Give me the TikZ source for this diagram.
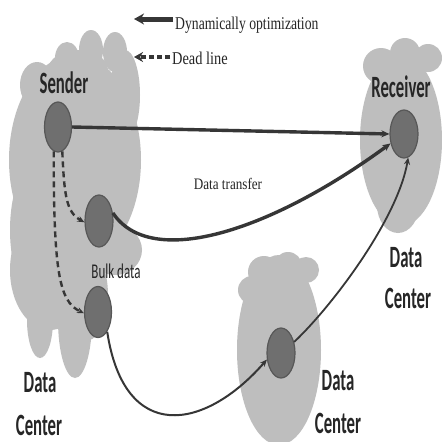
\documentclass[tikz,border=0pt]{standalone}
\usepackage{fontspec}
\setmainfont{Liberation Serif}
\newfontfamily\labelfont{Carlito}
\usetikzlibrary{shapes.geometric,arrows.meta}

\definecolor{cloudgrey}{HTML}{BEBEBE}
\definecolor{hostgrey}{HTML}{6F6F6F}
\definecolor{hostedge}{HTML}{575757}
\definecolor{linkgrey}{HTML}{363636}
\definecolor{labeltext}{HTML}{262626}

\begin{document}
\begin{tikzpicture}[x=1pt,y=-1pt,
  cloudpart/.style={fill=cloudgrey, draw=none},
  host/.style={ellipse, fill=hostgrey, draw=hostedge, line width=1.2pt, inner sep=0pt},
  dclabel/.style={anchor=base, text=labeltext, inner sep=0pt,
    font=\labelfont\bfseries\fontsize{31}{31}\selectfont},
  smalllabel/.style={anchor=base, text=labeltext, inner sep=0pt,
    font=\labelfont\fontsize{21}{21}\selectfont},
  serifnote/.style={text=labeltext, inner sep=0pt,
    font=\fontsize{18}{18}\selectfont},
  link/.style={draw=linkgrey, line width=3.4pt,
    -{Stealth[length=8pt,width=7pt]}},
  thinlink/.style={draw=linkgrey, line width=1.8pt,
    -{Stealth[length=7pt,width=6pt]}},
  deadline/.style={draw=linkgrey, line width=2.4pt, dash pattern=on 6pt off 4pt,
    -{Stealth[length=7pt,width=6pt]}},
  legendsolid/.style={draw=linkgrey, line width=5pt,
    -{Stealth[length=10pt,width=11pt]}},
  legenddash/.style={draw=linkgrey, line width=3.6pt, dash pattern=on 5pt off 3pt,
    -{Stealth[length=9pt,width=10pt]}},
]
\useasboundingbox[fill=white] (0,0) rectangle (442,442);

% sender data center
\fill[cloudpart] (75,160) ellipse [x radius=66, y radius=105];
\fill[cloudpart] (67,58) ellipse [x radius=12, y radius=16];
\fill[cloudpart] (91,50) ellipse [x radius=12, y radius=20];
\fill[cloudpart] (115,52) ellipse [x radius=12, y radius=20];
\fill[cloudpart] (125,95) ellipse [x radius=15, y radius=45];
\fill[cloudpart] (78,70) ellipse [x radius=30, y radius=20];
\fill[cloudpart] (37,85) ellipse [x radius=17, y radius=23];
\fill[cloudpart] (40,230) ellipse [x radius=30, y radius=72];
\fill[cloudpart] (50,270) ellipse [x radius=40, y radius=60];
\fill[cloudpart] (40,320) ellipse [x radius=13, y radius=38];
\fill[cloudpart] (75,320) ellipse [x radius=17, y radius=58];
\fill[cloudpart] (88,295) ellipse [x radius=20, y radius=45];
\fill[cloudpart] (115,250) ellipse [x radius=27, y radius=25];

% receiver data center
\fill[cloudpart] (401,140) ellipse [x radius=41, y radius=86];
\fill[cloudpart] (381,66) circle [radius=18];
\fill[cloudpart] (405,53) circle [radius=15];
\fill[cloudpart] (428,58) circle [radius=14];
\fill[cloudpart] (398,205) ellipse [x radius=21, y radius=28];

% relay data center
\fill[cloudpart] (279,350) ellipse [x radius=42, y radius=95];
\fill[cloudpart] (264,272) circle [radius=16];
\fill[cloudpart] (288,266) circle [radius=14];
\fill[cloudpart] (306,270) circle [radius=13];
\fill[cloudpart] (252,290) circle [radius=14];

% hosts
\node[host, minimum width=27pt, minimum height=50pt] (sender) at (58,127) {};
\node[host, minimum width=28pt, minimum height=52pt] (bulkA) at (99,221) {};
\node[host, minimum width=27pt, minimum height=51pt] (bulkB) at (98,312) {};
\node[host, minimum width=28pt, minimum height=48pt] (receiver) at (404,134) {};
\node[host, minimum width=28pt, minimum height=50pt] (relay) at (281,353) {};

% labels
\node[dclabel] (lsender) at (64,93) {\scalebox{0.54}[1]{Sender}};
\node[dclabel] (lreceiver) at (401,97) {\scalebox{0.54}[1]{Receiver}};
\node[dclabel] (ldata1) at (40,392) {\scalebox{0.54}[1]{Data}};
\node[dclabel] (lcenter1) at (39,435) {\scalebox{0.54}[1]{Center}};
\node[dclabel] (ldata2) at (406,267) {\scalebox{0.54}[1]{Data}};
\node[dclabel] (lcenter2) at (408,308) {\scalebox{0.54}[1]{Center}};
\node[dclabel] (ldata3) at (338,390) {\scalebox{0.54}[1]{Data}};
\node[dclabel] (lcenter3) at (338,433) {\scalebox{0.54}[1]{Center}};
\node[smalllabel] (lbulk) at (116,278) {\scalebox{0.62}[1]{Bulk data}};
\node[serifnote, anchor=base, font=\fontsize{16}{16}\selectfont] (ltransfer) at (228,189)
  {\scalebox{0.82}[1]{Data transfer}};

% legend
\coordinate (legSolidA) at (173,19);
\coordinate (legSolidB) at (134,19);
\coordinate (legDashA) at (170,57);
\coordinate (legDashB) at (134,57);
\draw[legendsolid] (legSolidA) -- (legSolidB);
\draw[legenddash] (legDashA) -- (legDashB);
\node[serifnote, anchor=base west] (legSolidText) at (175,29)
  {\scalebox{0.76}[1]{Dynamically optimization}};
\node[serifnote, anchor=base west] (legDashText) at (172,64)
  {\scalebox{0.8}[1]{Dead line}};

% transfers
\draw[link] (sender.east) -- (receiver.west);
\draw[link] (bulkA.30) .. controls +(37,56) and +(-123,90) .. (receiver.215);
\draw[thinlink, line width=2pt] (bulkB.-65) .. controls +(17,112) and +(-63,72) .. (relay.205);
\draw[thinlink] (relay.40) .. controls +(40,-38) and +(-10,60) .. (receiver.-80);
\draw[deadline] (sender.-80) .. controls +(2,45) and +(-18,-10) .. (bulkA.185);
\draw[deadline] (sender.-100) .. controls +(0,120) and +(-25,-12) .. (bulkB.185);
\end{tikzpicture}
\end{document}
